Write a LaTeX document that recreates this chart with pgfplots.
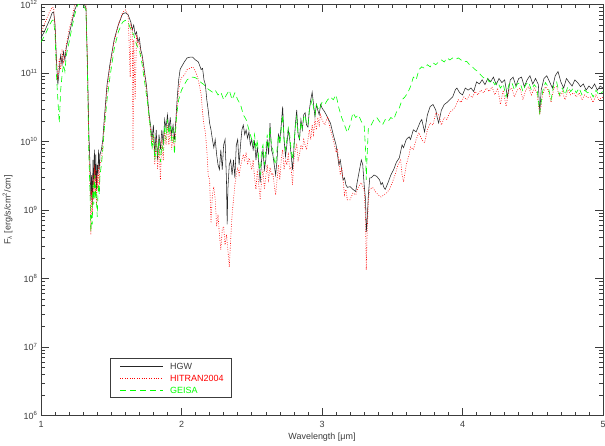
\documentclass[border=0pt]{standalone}
\usepackage{fontspec}
\setmainfont{Liberation Sans}
\usepackage{pgfplots}
\usepackage{pgfplotstable}
\pgfplotsset{compat=1.18}
\definecolor{axgray}{RGB}{60,60,60}
\definecolor{geisa}{RGB}{0,255,0}
\definecolor{hitran}{RGB}{255,0,0}

\pgfplotstableread{
x y
1.00 3.24e11
1.03 4.27e11
1.06 5.89e11
1.08 7.59e11
1.09 7.76e11
1.10 5.01e11
1.11 1.55e11
1.12 6.76e10
1.13 1.12e11
1.14 1.82e11
1.15 1.32e11
1.16 2.04e11
1.17 1.55e11
1.18 2.34e11
1.20 3.63e11
1.22 5.50e11
1.24 8.32e11
1.26 1.05e12
1.28 1.17e12
1.30 1.10e12
1.32 8.91e11
1.33 1.55e11
1.34 1.48e10
1.35 3.89e9
1.355 1.41e9
1.36 3.24e9
1.365 1.20e9
1.37 5.37e9
1.375 2.34e9
1.38 7.59e9
1.385 2.75e9
1.39 6.46e9
1.395 2.00e9
1.40 4.57e9
1.405 3.24e9
1.41 7.59e9
1.415 3.89e9
1.42 6.46e9
1.43 7.59e9
1.44 1.07e10
1.45 2.09e10
1.47 6.76e10
1.49 1.32e11
1.52 3.02e11
1.55 5.01e11
1.58 7.24e11
1.60 7.59e11
1.62 7.08e11
1.64 5.50e11
1.65 4.27e11
1.66 5.01e11
1.67 3.63e11
1.68 3.98e11
1.69 2.82e11
1.70 3.24e11
1.71 2.19e11
1.72 1.82e11
1.73 1.32e11
1.74 9.33e10
1.75 6.76e10
1.76 4.07e10
1.77 2.45e10
1.78 1.74e10
1.79 1.07e10
1.80 1.74e10
1.81 6.46e9
1.82 1.48e10
1.83 5.37e9
1.84 1.26e10
1.85 7.59e9
1.86 1.48e10
1.87 8.91e9
1.88 2.09e10
1.89 1.58e10
1.90 2.45e10
1.91 1.48e10
1.92 2.24e10
1.93 1.26e10
1.94 1.74e10
1.95 1.07e10
1.96 2.09e10
1.97 4.47e10
1.98 7.94e10
1.99 1.12e11
2.00 1.23e11
2.02 1.45e11
2.04 1.66e11
2.06 1.70e11
2.08 1.70e11
2.10 1.55e11
2.12 1.45e11
2.14 1.12e11
2.15 1.17e11
2.16 7.94e10
2.17 6.76e10
2.18 4.07e10
2.19 2.88e10
2.20 1.86e10
2.21 1.48e10
2.22 1.07e10
2.23 8.13e9
2.24 1.07e10
2.25 6.46e9
2.26 4.57e9
2.27 3.89e9
2.28 7.59e9
2.29 3.89e9
2.30 8.91e9
2.31 1.07e10
2.32 2.75e9
2.325 6.17e8
2.33 2.00e9
2.34 4.57e9
2.35 5.37e9
2.36 3.24e9
2.37 5.37e9
2.38 2.95e9
2.39 8.91e9
2.40 1.07e10
2.41 4.57e9
2.42 8.91e9
2.43 1.48e10
2.44 1.74e10
2.45 1.26e10
2.46 1.48e10
2.47 1.12e10
2.48 1.38e10
2.49 8.91e9
2.50 1.07e10
2.51 7.59e9
2.52 1.00e10
2.53 5.37e9
2.54 8.32e9
2.55 4.57e9
2.56 2.51e9
2.57 5.37e9
2.58 7.59e9
2.59 3.89e9
2.60 5.37e9
2.61 1.07e10
2.62 6.46e9
2.63 1.86e10
2.64 7.59e9
2.65 6.46e9
2.66 4.57e9
2.67 3.24e9
2.68 5.37e9
2.69 1.26e10
2.70 1.07e10
2.71 1.74e10
2.72 3.24e10
2.73 1.07e10
2.74 6.03e9
2.75 8.91e9
2.76 1.48e10
2.77 1.07e10
2.78 6.46e9
2.79 3.89e9
2.80 7.59e9
2.81 1.74e10
2.82 2.88e10
2.83 1.26e10
2.84 1.07e10
2.85 2.09e10
2.86 1.48e10
2.87 2.45e10
2.88 2.63e10
2.89 1.74e10
2.90 1.62e10
2.91 2.88e10
2.92 4.07e10
2.93 5.25e10
2.94 3.47e10
2.95 2.29e10
2.96 3.47e10
2.97 2.88e10
2.98 2.45e10
2.99 3.47e10
3.00 3.09e10
3.02 2.69e10
3.04 2.24e10
3.06 1.86e10
3.08 1.26e10
3.10 8.91e9
3.11 6.46e9
3.12 4.57e9
3.13 5.37e9
3.14 3.89e9
3.15 2.75e9
3.16 2.95e9
3.17 2.34e9
3.18 2.14e9
3.20 2.19e9
3.22 2.00e9
3.24 1.86e9
3.25 2.51e9
3.26 3.24e9
3.27 4.17e9
3.28 5.37e9
3.29 4.57e9
3.30 2.34e9
3.31 1.41e9
3.315 4.79e8
3.32 6.17e8
3.33 1.66e9
3.34 2.95e9
3.35 2.95e9
3.37 3.24e9
3.39 3.09e9
3.41 2.75e9
3.42 2.34e9
3.43 2.51e9
3.44 2.14e9
3.45 2.00e9
3.47 2.51e9
3.49 3.24e9
3.51 3.89e9
3.53 5.01e9
3.55 5.75e9
3.57 8.91e9
3.58 8.13e9
3.60 1.07e10
3.62 1.17e10
3.63 1.07e10
3.65 1.48e10
3.67 1.38e10
3.69 1.74e10
3.70 1.95e10
3.71 2.09e10
3.73 1.38e10
3.75 2.45e10
3.77 3.24e10
3.79 3.47e10
3.81 2.88e10
3.82 2.24e10
3.83 1.86e10
3.85 2.88e10
3.87 3.47e10
3.89 3.72e10
3.91 4.07e10
3.93 4.47e10
3.95 5.75e10
3.96 6.03e10
3.98 5.13e10
4.00 4.79e10
4.02 6.03e10
4.04 5.62e10
4.06 6.03e10
4.08 5.37e10
4.10 7.41e10
4.12 6.92e10
4.14 7.94e10
4.16 6.76e10
4.18 8.32e10
4.20 7.41e10
4.22 8.71e10
4.24 6.76e10
4.26 8.32e10
4.28 7.24e10
4.30 7.94e10
4.32 4.47e10
4.34 7.94e10
4.36 8.71e10
4.38 6.46e10
4.40 8.32e10
4.42 8.71e10
4.44 6.31e10
4.46 7.94e10
4.48 9.12e10
4.50 6.92e10
4.52 8.32e10
4.54 6.76e10
4.55 2.63e10
4.56 5.62e10
4.58 8.32e10
4.60 9.12e10
4.62 7.41e10
4.64 6.03e10
4.66 9.12e10
4.68 1.05e11
4.70 7.41e10
4.72 6.03e10
4.74 8.32e10
4.76 7.24e10
4.78 6.46e10
4.80 7.94e10
4.82 7.24e10
4.84 6.31e10
4.86 6.92e10
4.88 5.62e10
4.90 6.46e10
4.92 5.89e10
4.94 6.92e10
4.96 5.62e10
4.98 6.46e10
5.00 6.03e10
}\hgw

\pgfplotstableread{
x y
1.00 3.80e11
1.03 5.50e11
1.06 7.76e11
1.08 9.12e11
1.09 8.91e11
1.10 5.01e11
1.11 1.32e11
1.12 7.94e10
1.13 1.66e11
1.14 1.12e11
1.15 2.04e11
1.16 1.45e11
1.17 1.82e11
1.18 2.57e11
1.20 4.27e11
1.22 6.31e11
1.24 9.77e11
1.26 1.17e12
1.30 1.17e12
1.32 9.77e11
1.33 1.55e11
1.34 1.07e10
1.35 2.00e9
1.355 4.37e8
1.36 2.00e9
1.365 8.51e8
1.37 3.24e9
1.375 1.41e9
1.38 4.57e9
1.385 1.66e9
1.39 3.89e9
1.395 1.20e9
1.40 3.24e9
1.405 2.00e9
1.41 4.57e9
1.415 2.34e9
1.42 4.57e9
1.43 5.37e9
1.44 8.91e9
1.45 1.74e10
1.47 5.62e10
1.49 1.17e11
1.52 2.82e11
1.55 5.01e11
1.58 7.59e11
1.60 8.32e11
1.62 7.24e11
1.635 8.71e10
1.64 5.01e11
1.65 4.27e11
1.655 7.59e9
1.66 3.02e11
1.67 4.07e10
1.68 3.63e11
1.69 2.57e11
1.70 2.82e11
1.71 1.82e11
1.72 1.66e11
1.73 1.12e11
1.74 8.51e10
1.75 5.62e10
1.76 3.47e10
1.77 2.09e10
1.78 1.48e10
1.79 8.91e9
1.80 1.26e10
1.81 4.57e9
1.82 1.07e10
1.83 3.89e9
1.84 8.91e9
1.85 2.75e9
1.86 1.07e10
1.87 5.37e9
1.88 1.48e10
1.89 8.91e9
1.90 1.74e10
1.91 8.91e9
1.92 1.48e10
1.93 7.59e9
1.94 1.26e10
1.95 7.59e9
1.96 1.74e10
1.97 3.47e10
1.98 5.62e10
1.99 7.41e10
2.00 8.51e10
2.02 9.33e10
2.04 1.12e11
2.06 1.17e11
2.08 1.23e11
2.10 1.05e11
2.12 7.94e10
2.14 4.79e10
2.15 2.63e10
2.16 1.74e10
2.17 1.35e10
2.18 7.59e9
2.19 3.24e9
2.20 2.75e9
2.21 6.46e8
2.22 1.66e9
2.23 2.19e9
2.24 1.41e9
2.25 5.75e8
2.26 8.51e8
2.27 4.37e8
2.28 2.63e8
2.29 5.13e8
2.30 5.75e8
2.31 3.09e8
2.32 4.37e8
2.33 2.63e8
2.34 1.48e8
2.35 3.72e8
2.36 8.51e8
2.37 1.41e9
2.38 2.34e9
2.39 3.24e9
2.40 4.17e9
2.41 3.24e9
2.42 4.27e9
2.43 5.37e9
2.44 6.46e9
2.45 5.37e9
2.46 6.92e9
2.47 4.57e9
2.48 5.75e9
2.49 4.90e9
2.50 3.89e9
2.51 5.37e9
2.52 2.95e9
2.53 2.00e9
2.54 3.89e9
2.55 2.34e9
2.56 1.41e9
2.57 2.75e9
2.58 3.89e9
2.59 2.00e9
2.60 3.09e9
2.61 4.57e9
2.62 2.75e9
2.63 4.17e9
2.64 3.24e9
2.65 3.47e9
2.66 2.34e9
2.67 1.66e9
2.68 2.75e9
2.69 4.57e9
2.70 2.75e9
2.71 5.37e9
2.72 7.59e9
2.73 3.89e9
2.74 5.37e9
2.75 4.57e9
2.76 6.46e9
2.77 3.89e9
2.78 4.27e9
2.79 2.34e9
2.80 5.37e9
2.81 7.59e9
2.82 8.91e9
2.83 5.37e9
2.84 6.46e9
2.85 8.91e9
2.86 7.59e9
2.87 1.07e10
2.88 8.91e9
2.89 7.59e9
2.90 1.07e10
2.91 1.48e10
2.92 1.07e10
2.93 1.74e10
2.94 1.26e10
2.95 2.09e10
2.96 1.48e10
2.97 2.24e10
2.98 1.74e10
2.99 2.45e10
3.00 2.09e10
3.02 1.74e10
3.04 2.29e10
3.06 1.48e10
3.08 1.07e10
3.10 6.92e9
3.11 7.59e9
3.12 5.37e9
3.13 3.24e9
3.14 4.17e9
3.15 2.75e9
3.16 1.66e9
3.17 2.00e9
3.18 1.41e9
3.20 1.41e9
3.22 1.78e9
3.24 1.66e9
3.26 2.19e9
3.28 2.51e9
3.30 2.00e9
3.31 7.24e8
3.315 1.35e8
3.32 3.72e8
3.33 1.41e9
3.34 2.00e9
3.36 2.14e9
3.38 1.86e9
3.40 1.66e9
3.42 1.55e9
3.44 1.66e9
3.46 1.78e9
3.48 2.00e9
3.50 2.51e9
3.52 3.24e9
3.54 4.57e9
3.56 5.37e9
3.57 3.24e9
3.58 2.57e9
3.60 4.57e9
3.62 6.46e9
3.63 8.32e9
3.65 7.59e9
3.67 1.07e10
3.69 1.35e10
3.71 1.07e10
3.73 9.55e9
3.75 1.48e10
3.77 1.86e10
3.79 1.74e10
3.81 2.63e10
3.83 2.45e10
3.85 1.74e10
3.87 2.24e10
3.89 2.09e10
3.91 2.69e10
3.93 2.88e10
3.95 3.24e10
3.97 4.07e10
3.99 3.72e10
4.01 4.47e10
4.03 4.07e10
4.05 4.79e10
4.07 4.37e10
4.09 5.37e10
4.11 4.79e10
4.13 5.62e10
4.15 5.13e10
4.17 6.03e10
4.19 5.37e10
4.21 6.31e10
4.23 4.79e10
4.25 6.03e10
4.27 3.47e10
4.29 5.62e10
4.31 3.24e10
4.33 5.62e10
4.35 6.03e10
4.37 4.47e10
4.39 5.62e10
4.41 6.03e10
4.43 4.07e10
4.45 5.62e10
4.47 6.31e10
4.49 4.79e10
4.51 6.03e10
4.53 5.13e10
4.55 2.45e10
4.57 4.79e10
4.59 6.31e10
4.61 5.62e10
4.63 3.72e10
4.65 6.03e10
4.67 6.31e10
4.69 4.47e10
4.71 5.37e10
4.73 4.07e10
4.75 5.62e10
4.77 4.79e10
4.79 5.13e10
4.81 4.47e10
4.83 5.13e10
4.85 4.07e10
4.87 4.79e10
4.89 4.37e10
4.91 4.47e10
4.93 3.72e10
4.95 4.79e10
4.97 4.07e10
5.00 4.47e10
}\hitran

\pgfplotstableread{
x y
1.00 2.82e11
1.03 3.63e11
1.06 5.01e11
1.08 5.89e11
1.09 5.89e11
1.10 3.63e11
1.11 9.33e10
1.12 4.07e10
1.13 1.86e10
1.14 5.62e10
1.15 9.33e10
1.16 1.32e11
1.17 1.05e11
1.18 1.82e11
1.20 2.82e11
1.22 4.57e11
1.24 7.08e11
1.26 9.77e11
1.28 1.05e12
1.30 9.77e11
1.32 8.32e11
1.33 1.12e11
1.34 7.59e9
1.35 1.41e9
1.355 4.79e8
1.36 8.51e8
1.365 6.17e8
1.37 2.34e9
1.375 1.20e9
1.38 3.24e9
1.385 1.41e9
1.39 2.34e9
1.395 1.41e9
1.40 7.94e8
1.405 1.66e9
1.41 2.34e9
1.415 1.66e9
1.42 3.24e9
1.43 4.57e9
1.44 7.59e9
1.45 1.48e10
1.47 4.07e10
1.49 8.51e10
1.52 2.19e11
1.55 3.98e11
1.58 5.50e11
1.60 5.89e11
1.62 5.50e11
1.64 4.27e11
1.66 3.63e11
1.68 2.57e11
1.70 2.19e11
1.72 1.32e11
1.74 6.76e10
1.76 3.47e10
1.78 1.48e10
1.79 7.59e9
1.80 1.26e10
1.81 5.37e9
1.82 8.91e9
1.83 6.46e9
1.84 1.07e10
1.85 5.01e9
1.86 8.91e9
1.87 7.59e9
1.88 1.74e10
1.89 1.07e10
1.90 2.09e10
1.91 1.26e10
1.92 1.74e10
1.93 1.07e10
1.94 1.48e10
1.95 6.46e9
1.96 1.74e10
1.97 2.88e10
1.98 4.07e10
1.99 4.79e10
2.00 5.62e10
2.02 6.76e10
2.04 7.94e10
2.06 8.51e10
2.08 8.71e10
2.10 8.51e10
2.12 7.94e10
2.14 7.24e10
2.16 6.76e10
2.18 6.03e10
2.20 5.62e10
2.22 5.25e10
2.24 5.62e10
2.26 4.79e10
2.28 5.25e10
2.30 4.07e10
2.32 4.79e10
2.34 5.62e10
2.36 4.07e10
2.38 5.13e10
2.40 4.07e10
2.42 3.47e10
2.44 2.45e10
2.46 2.09e10
2.48 1.48e10
2.50 1.07e10
2.51 8.91e9
2.52 1.26e10
2.53 7.59e9
2.54 1.07e10
2.55 5.37e9
2.56 3.24e9
2.57 7.59e9
2.58 8.91e9
2.59 4.57e9
2.60 7.59e9
2.61 1.26e10
2.62 7.59e9
2.63 1.58e10
2.64 8.91e9
2.65 7.59e9
2.66 5.37e9
2.67 4.57e9
2.68 7.59e9
2.69 1.26e10
2.70 8.91e9
2.71 1.48e10
2.72 2.45e10
2.73 1.07e10
2.74 7.59e9
2.75 1.07e10
2.76 1.58e10
2.77 1.26e10
2.78 7.59e9
2.79 5.37e9
2.80 8.91e9
2.81 1.58e10
2.82 2.24e10
2.83 1.26e10
2.84 1.12e10
2.85 1.95e10
2.86 1.58e10
2.87 2.24e10
2.88 2.45e10
2.89 1.74e10
2.90 1.74e10
2.91 2.88e10
2.92 3.47e10
2.93 4.07e10
2.94 3.09e10
2.95 2.45e10
2.96 3.47e10
2.97 3.09e10
2.98 2.88e10
3.00 3.72e10
3.02 3.47e10
3.04 4.07e10
3.06 4.47e10
3.08 4.07e10
3.10 4.79e10
3.12 3.09e10
3.14 2.24e10
3.16 1.74e10
3.18 1.35e10
3.20 1.74e10
3.22 2.63e10
3.24 2.24e10
3.26 2.45e10
3.28 1.95e10
3.30 1.74e10
3.31 7.59e9
3.315 2.75e9
3.32 5.37e9
3.33 1.58e10
3.35 1.74e10
3.37 2.09e10
3.39 2.24e10
3.41 1.95e10
3.43 1.74e10
3.45 2.09e10
3.47 1.95e10
3.49 2.24e10
3.51 2.09e10
3.53 2.69e10
3.55 3.09e10
3.57 4.07e10
3.59 4.47e10
3.61 5.13e10
3.63 6.31e10
3.65 8.71e10
3.67 7.94e10
3.69 1.12e11
3.71 1.23e11
3.73 1.17e11
3.75 1.32e11
3.77 1.23e11
3.79 1.41e11
3.81 1.32e11
3.83 1.45e11
3.85 1.55e11
3.87 1.45e11
3.89 1.66e11
3.91 1.55e11
3.93 1.66e11
3.95 1.58e11
3.97 1.66e11
3.99 1.55e11
4.01 1.45e11
4.03 1.48e11
4.05 1.32e11
4.07 1.23e11
4.09 1.12e11
4.11 1.05e11
4.13 9.33e10
4.15 8.51e10
4.17 8.71e10
4.19 7.41e10
4.21 7.94e10
4.23 6.76e10
4.25 7.41e10
4.27 6.03e10
4.29 6.92e10
4.31 4.47e10
4.33 6.76e10
4.35 7.41e10
4.37 5.62e10
4.39 6.92e10
4.41 7.24e10
4.43 5.37e10
4.45 6.76e10
4.47 7.41e10
4.49 5.62e10
4.51 6.76e10
4.53 6.03e10
4.55 2.63e10
4.57 5.37e10
4.59 7.24e10
4.61 6.31e10
4.63 4.07e10
4.65 6.76e10
4.67 7.41e10
4.69 4.79e10
4.71 6.03e10
4.73 4.79e10
4.75 6.31e10
4.77 5.37e10
4.79 6.03e10
4.81 5.13e10
4.83 6.03e10
4.85 4.79e10
4.87 5.62e10
4.89 5.13e10
4.91 5.37e10
4.93 4.47e10
4.95 5.62e10
4.97 4.79e10
5.00 5.37e10
}\geisa

\begin{document}
\begin{tikzpicture}
\begin{axis}[
  scale only axis,
  width=562bp, height=411bp,
  ymode=log,
  xmin=1, xmax=5, ymin=1e6, ymax=1e12,
  axis line style={axgray, line width=0.7pt},
  every tick/.style={axgray, line width=0.6pt},
  tick align=inside,
  xtick={1,2,3,4,5},
  xticklabels={1,2,3,4,5},
  minor x tick num=9,
  ytick={1e6,1e7,1e8,1e9,1e10,1e11,1e12},
  yticklabels={10\textsuperscript{6},10\textsuperscript{7},10\textsuperscript{8},10\textsuperscript{9},10\textsuperscript{10},10\textsuperscript{11},10\textsuperscript{12}},
  major tick length=8bp,
  minor tick length=4bp,
  ticklabel style={font=\fontsize{9}{10}\selectfont, text=axgray},
  xticklabel style={yshift=-2bp},
  xlabel={Wavelength [μm]},
  ylabel={F\textsubscript{λ} [erg/s/cm\textsuperscript{2}/cm]},
  label style={font=\fontsize{9}{10}\selectfont, text=axgray},
  xlabel style={yshift=1bp},
  ylabel style={yshift=1bp},
  clip=true,
]
\addplot[draw=black!85, line width=0.55pt] table[x=x,y=y] {\hgw};
\addplot[draw=hitran, line width=0.6pt, dash pattern=on 0.8bp off 1.6bp] table[x=x,y=y] {\hitran};
\addplot[draw=geisa, line width=0.6pt, dash pattern=on 6bp off 4bp] table[x=x,y=y] {\geisa};
\end{axis}
% legend (decoration)
\draw[axgray, line width=0.7pt, fill=white] ([shift={(69bp,18bp)}]current axis.south west) rectangle ([shift={(190bp,57bp)}]current axis.south west);
\draw[black!85, line width=0.55pt] ([shift={(79bp,49.3bp)}]current axis.south west) -- ([shift={(122bp,49.3bp)}]current axis.south west);
\draw[hitran, line width=0.6pt, dash pattern=on 0.8bp off 1.6bp] ([shift={(79bp,37bp)}]current axis.south west) -- ([shift={(122bp,37bp)}]current axis.south west);
\draw[geisa, line width=0.6pt, dash pattern=on 6bp off 4bp] ([shift={(79bp,25.3bp)}]current axis.south west) -- ([shift={(122bp,25.3bp)}]current axis.south west);
\node[anchor=west, inner sep=0pt, font=\fontsize{9}{10}\selectfont, text=axgray] at ([shift={(129bp,49.3bp)}]current axis.south west) {HGW};
\node[anchor=west, inner sep=0pt, font=\fontsize{9}{10}\selectfont, text=hitran] at ([shift={(129bp,37bp)}]current axis.south west) {HITRAN2004};
\node[anchor=west, inner sep=0pt, font=\fontsize{9}{10}\selectfont, text=geisa] at ([shift={(129bp,25.3bp)}]current axis.south west) {GEISA};
\pgfresetboundingbox
\path[use as bounding box] ([shift={(-41bp,-30bp)}]current axis.south west) rectangle ([shift={(2bp,4.5bp)}]current axis.north east);
\end{tikzpicture}
\end{document}
